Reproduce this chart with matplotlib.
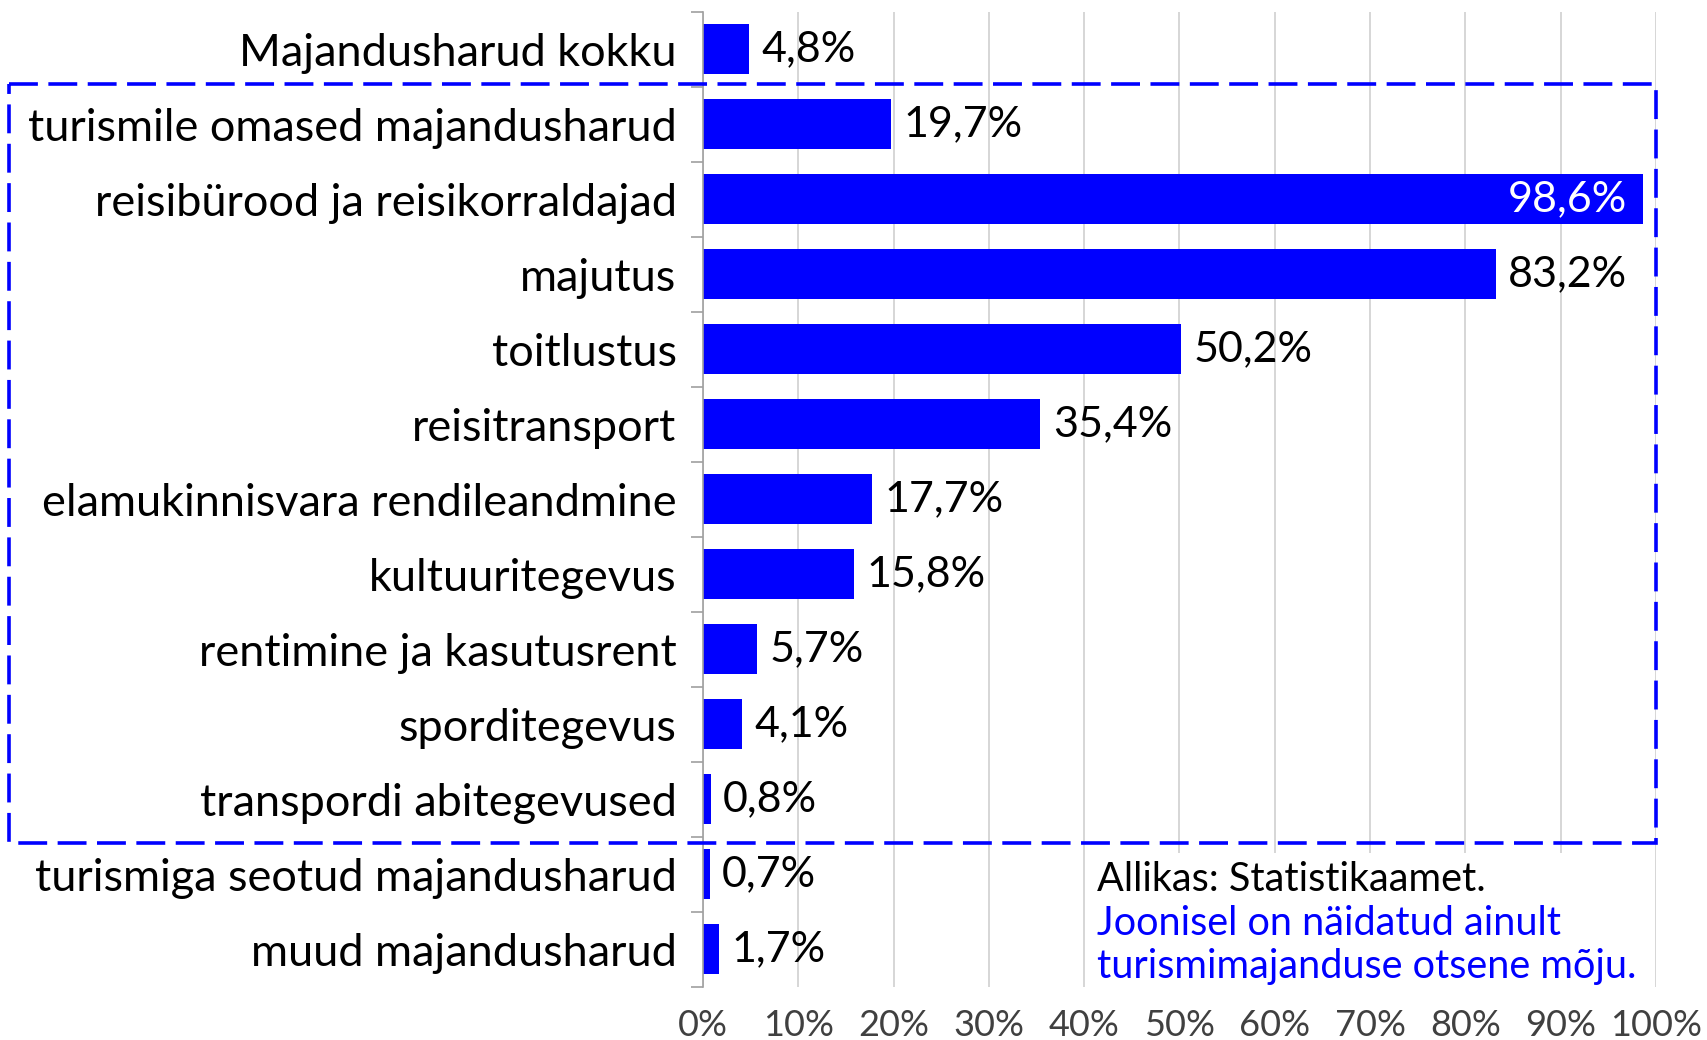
import matplotlib
matplotlib.use("Agg")
import matplotlib.pyplot as plt
import matplotlib.transforms as mtransforms
from matplotlib.patches import Rectangle
import numpy as np

# andmed ---------------------------------------------------------
categories = [
    "Majandusharud kokku",
    "turismile omased majandusharud",
    "reisibürood ja reisikorraldajad",
    "majutus",
    "toitlustus",
    "reisitransport",
    "elamukinnisvara rendileandmine",
    "kultuuritegevus",
    "rentimine ja kasutusrent",
    "sporditegevus",
    "transpordi abitegevused",
    "turismiga seotud majandusharud",
    "muud majandusharud",
]
values = [4.8, 19.7, 98.6, 83.2, 50.2, 35.4, 17.7, 15.8, 5.7, 4.1, 0.8, 0.7, 1.7]
xticks = [0, 10, 20, 30, 40, 50, 60, 70, 80, 90, 100]
xtick_labels = ["0%", "10%", "20%", "30%", "40%", "50%", "60%", "70%", "80%", "90%", "100%"]
source_text = "Allikas: Statistikaamet."
note_text = "Joonisel on näidatud ainult\nturismimajanduse otsene mõju."

blue = "#0000ff"
font = "Lato"

fig = plt.figure(figsize=(17.07, 10.40), dpi=100)
ax = fig.add_axes([0.4118, 0.051, 0.9701 - 0.4118, 0.9885 - 0.051])

n = len(categories)
y = np.arange(n)
ax.barh(y, values, height=0.667, color=blue, zorder=3)
ax.set_ylim(n - 0.5, -0.5)
ax.set_xlim(0, 100)

# väärtuste sildid
for yi, v in zip(y, values):
    lbl = f"{v:.1f}%".replace(".", ",")
    if v > 90:
        ax.annotate(lbl, (v, yi), xytext=(-11, 0), textcoords="offset points",
                    ha="right", va="center", color="white", fontsize=31, family=font, zorder=4)
    else:
        ax.annotate(lbl, (v, yi), xytext=(9, 0), textcoords="offset points",
                    ha="left", va="center", color="black", fontsize=31, family=font, zorder=4)

# teljed
ax.set_yticks(y)
ax.set_yticklabels(categories, fontsize=32.5, family=font)
ax.set_yticks(np.arange(-0.5, n, 1), minor=True)
ax.tick_params(axis="y", which="major", length=0, pad=19)
ax.tick_params(axis="y", which="minor", length=9, color="#a0a0a0", width=1.2)
ax.set_xticks(xticks)
ax.set_xticklabels(xtick_labels, fontsize=26, family=font, color="#404040")
ax.tick_params(axis="x", length=0, pad=16)
ax.grid(axis="x", color="#d0d0d0", linewidth=1.2, zorder=0)
for s in ["top", "right", "bottom"]:
    ax.spines[s].set_visible(False)
ax.spines["left"].set_color("#a0a0a0")
ax.spines["left"].set_linewidth(1.2)
ax.spines["left"].set_zorder(5)

# katkendjoonega raam
trans = mtransforms.blended_transform_factory(fig.transFigure, ax.transData)
x0 = 9 / 1707
x1 = 1656 / 1707
rect = Rectangle((x0, 0.46), x1 - x0, 10.58 - 0.46, transform=trans,
                 fill=False, edgecolor=blue, linewidth=2.6, linestyle=(0, (8, 2.9)),
                 clip_on=False, zorder=6)
ax.add_patch(rect)

# märkus
ax.add_patch(Rectangle((41, 10.72), 58.6, 2.3, facecolor="white", edgecolor="none", zorder=2))
ax.text(41.3, 11.07, source_text, fontsize=28.5, family=font, color="black",
        va="center", ha="left", zorder=4)
ax.text(41.3, 11.94, note_text, fontsize=28.5, family=font, color=blue,
        va="center", ha="left", linespacing=1.22, zorder=4)

fig.savefig("out.png", dpi=100)
